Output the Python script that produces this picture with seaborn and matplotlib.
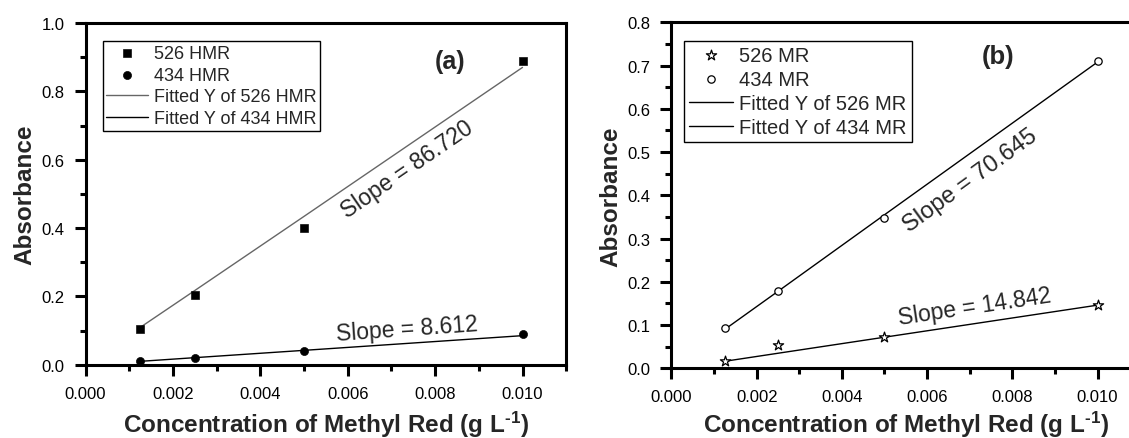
import pandas as pd
import seaborn as sns
import matplotlib.pyplot as plt
from matplotlib.ticker import MultipleLocator

# --- DATA ---
conc = [0.00125, 0.0025, 0.005, 0.010]

# panel (a): HMR
hmr_526 = [0.104, 0.204, 0.399, 0.890]
hmr_434 = [0.0098, 0.0185, 0.039, 0.0898]
fit_hmr_526 = [0.109, 0.217, 0.434, 0.870]
fit_hmr_434 = [0.0098, 0.0206, 0.042, 0.085]

# panel (b): MR
mr_526 = [0.0162, 0.054, 0.0732, 0.1464]
mr_434 = [0.0933, 0.1796, 0.3476, 0.7098]
fit_mr_526 = [0.0162, 0.0348, 0.0719, 0.146]
fit_mr_434 = [0.0899, 0.178, 0.355, 0.708]

slope_labels_a = ["Slope = 86.720", "Slope = 8.612"]
slope_labels_b = ["Slope = 70.645", "Slope = 14.842"]

df_a = pd.DataFrame({"conc": conc, "p526": hmr_526, "p434": hmr_434,
                     "f526": fit_hmr_526, "f434": fit_hmr_434})
df_b = pd.DataFrame({"conc": conc, "p526": mr_526, "p434": mr_434,
                     "f526": fit_mr_526, "f434": fit_mr_434})

# --- STYLE ---
sns.set_style("ticks")
plt.rcParams["font.family"] = ["Liberation Sans", "DejaVu Sans"]
plt.rcParams["mathtext.fontset"] = "custom"
plt.rcParams["mathtext.rm"] = "Liberation Sans"
plt.rcParams["mathtext.bf"] = "Liberation Sans:bold"
plt.rcParams["mathtext.default"] = "bf"

XLABEL = "Concentration of Methyl Red (g L$^{\u2010 1}$)"

W, H = 1129, 439
fig = plt.figure(figsize=(W / 100, H / 100), dpi=100)
ax_a = fig.add_axes([85.5 / W, (H - 365.7) / H, 480.7 / W, 341.7 / H])
ax_b = fig.add_axes([671.5 / W, (H - 369.3) / H, 468.6 / W, 346.0 / H])


def style_axes(ax, ymax, ymajor, xpad):
    ax.set_xlim(0, 0.011)
    ax.set_ylim(0, ymax)
    ax.xaxis.set_major_locator(MultipleLocator(0.002))
    ax.xaxis.set_minor_locator(MultipleLocator(0.001))
    ax.yaxis.set_major_locator(MultipleLocator(ymajor))
    ax.yaxis.set_minor_locator(MultipleLocator(ymajor / 2))
    ax.set_xticks([0, 0.002, 0.004, 0.006, 0.008, 0.010])
    ax.set_xticklabels(["0.000", "0.002", "0.004", "0.006", "0.008", "0.010"])
    ax.set_yticklabels([f"{v:.1f}" for v in ax.get_yticks()])
    for s in ax.spines.values():
        s.set_linewidth(2.2)
        s.set_color("black")
    ax.tick_params(which="major", direction="out", length=8, width=2.2,
                   labelsize=12, pad=7, colors="black")
    ax.tick_params(which="minor", direction="out", length=4.5, width=2.2,
                   colors="black")
    ax.set_xlabel(XLABEL, fontsize=17.5, fontweight="bold", labelpad=xpad)
    ax.set_ylabel("Absorbance", fontsize=17.5, fontweight="bold", labelpad=4)


def ordered_legend(ax, order, fs, anchor, hl, htp, ls, bp):
    h, l = ax.get_legend_handles_labels()
    lut = dict(zip(l, h))
    leg = ax.legend([lut[k] for k in order], order, loc="upper left",
                    bbox_to_anchor=anchor, borderaxespad=0, fontsize=fs,
                    frameon=True, fancybox=False, framealpha=1,
                    edgecolor="black", labelspacing=ls, borderpad=bp,
                    handlelength=hl, handletextpad=htp)
    leg.get_frame().set_linewidth(1.0)


# --- PANEL (a) ---
sns.lineplot(data=df_a, x="conc", y="f526", color="#666666", linewidth=1.0,
             label="Fitted Y of 526 HMR", ax=ax_a, estimator=None)
sns.lineplot(data=df_a, x="conc", y="f434", color="black", linewidth=1.0,
             label="Fitted Y of 434 HMR", ax=ax_a, estimator=None)
sns.scatterplot(data=df_a, x="conc", y="p526", marker="s", color="black",
                s=30, edgecolor="black", label="526 HMR", ax=ax_a, zorder=3)
sns.scatterplot(data=df_a, x="conc", y="p434", marker="o", color="black",
                s=34, edgecolor="black", label="434 HMR", ax=ax_a, zorder=3)
style_axes(ax_a, 1.0, 0.2, 6)
ordered_legend(ax_a, ["526 HMR", "434 HMR", "Fitted Y of 526 HMR",
                      "Fitted Y of 434 HMR"], 13, (0.036, 0.947), 2.3, 0.35,
               0.27, 0.2)
ax_a.text(0.00834, 0.889, "(a)", fontsize=18, fontweight="bold",
          ha="center", va="center")
ax_a.text(0.00736, 0.573, slope_labels_a[0], fontsize=16.5, rotation=34.5,
          ha="center", va="center", rotation_mode="anchor")
ax_a.text(0.00736, 0.107, slope_labels_a[1], fontsize=16.5, rotation=4,
          ha="center", va="center", rotation_mode="anchor")

# --- PANEL (b) ---
sns.lineplot(data=df_b, x="conc", y="f526", color="black", linewidth=1.0,
             label="Fitted Y of 526 MR", ax=ax_b, estimator=None)
sns.lineplot(data=df_b, x="conc", y="f434", color="black", linewidth=1.0,
             label="Fitted Y of 434 MR", ax=ax_b, estimator=None)
sns.scatterplot(data=df_b, x="conc", y="p526", marker="*", color="white",
                s=60, edgecolor="black", linewidth=0.9, label="526 MR",
                ax=ax_b, zorder=3)
sns.scatterplot(data=df_b, x="conc", y="p434", marker="o", color="white",
                s=28, edgecolor="black", linewidth=0.9, label="434 MR",
                ax=ax_b, zorder=3)
style_axes(ax_b, 0.8, 0.1, 3)
ordered_legend(ax_b, ["526 MR", "434 MR", "Fitted Y of 526 MR",
                      "Fitted Y of 434 MR"], 14.5, (0.026, 0.947), 2.2, 0.3,
               0.25, 0.25)
ax_b.text(0.00766, 0.722, "(b)", fontsize=18.5, fontweight="bold",
          ha="center", va="center")
ax_b.text(0.00701, 0.435, slope_labels_b[0], fontsize=17, rotation=36,
          ha="center", va="center", rotation_mode="anchor")
ax_b.text(0.00712, 0.144, slope_labels_b[1], fontsize=16.5, rotation=8.5,
          ha="center", va="center", rotation_mode="anchor")

fig.savefig("out.png", dpi=100)
